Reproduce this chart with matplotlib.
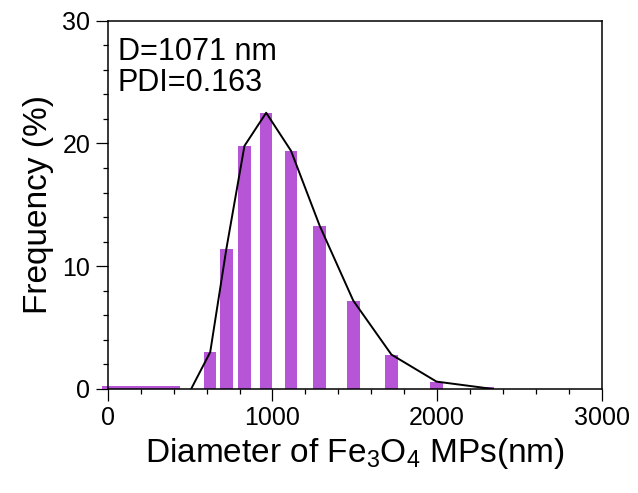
import matplotlib
matplotlib.use("Agg")
import matplotlib.pyplot as plt
from matplotlib.ticker import MultipleLocator

plt.rcParams['font.family'] = ['Liberation Sans', 'DejaVu Sans']
plt.rcParams['mathtext.fontset'] = 'custom'
plt.rcParams['mathtext.rm'] = 'Liberation Sans'
plt.rcParams['mathtext.it'] = 'Liberation Sans:italic'
plt.rcParams['mathtext.bf'] = 'Liberation Sans:bold'

# Bar data (DLS size distribution)
bar_diam = [622, 720, 830, 962, 1113, 1287, 1491, 1723, 1997, 2308]
bar_freq = [3.0, 11.4, 19.8, 22.5, 19.4, 13.3, 7.2, 2.8, 0.6, 0.15]

# Low-level baseline band at small sizes
low_start = [-35]
low_end = [439]
low_freq = [0.27]

# Curve through the distribution
line_diam = [506, 622, 720, 830, 962, 1113, 1287, 1491, 1723, 1997, 2340]
line_freq = [0.0, 3.0, 11.4, 19.8, 22.5, 19.4, 13.3, 7.2, 2.8, 0.6, 0.0]

x_ticks = [0, 1000, 2000, 3000]
y_ticks = [0, 10, 20, 30]

color = '#b656d6'

fig = plt.figure(figsize=(6.38, 4.93), dpi=100)
ax = fig.add_axes([0.169, 0.211, 0.774, 0.747])

ax.bar(bar_diam, bar_freq, width=76, color=color, zorder=2)
ax.bar(low_start, low_freq, width=[e - s for s, e in zip(low_start, low_end)],
       align='edge', color=color, zorder=2, clip_on=False)
ax.plot(line_diam, line_freq, color='black', lw=1.4, zorder=3)

ax.set_xlim(0, 3000)
ax.set_ylim(0, 30)
ax.set_xticks(x_ticks)
ax.set_yticks(y_ticks)
ax.xaxis.set_minor_locator(MultipleLocator(200))
ax.yaxis.set_minor_locator(MultipleLocator(2))
ax.tick_params(which='major', direction='out', length=8.5, width=0.9, labelsize=18,
               top=False, right=False, pad=4)
ax.tick_params(which='minor', direction='out', length=3.5, width=0.9,
               top=False, right=False)
for s in ax.spines.values():
    s.set_linewidth(1.1)

ax.set_xlabel('Diameter of Fe$_3$O$_4$ MPs(nm)', fontsize=24, labelpad=4)
ax.set_ylabel('Frequency (%)', fontsize=24, labelpad=6)

ax.text(0.02, 0.955, 'D=1071 nm\nPDI=0.163', transform=ax.transAxes,
        fontsize=22, va='top', ha='left', linespacing=1.05)

fig.savefig('out.png', dpi=100)
